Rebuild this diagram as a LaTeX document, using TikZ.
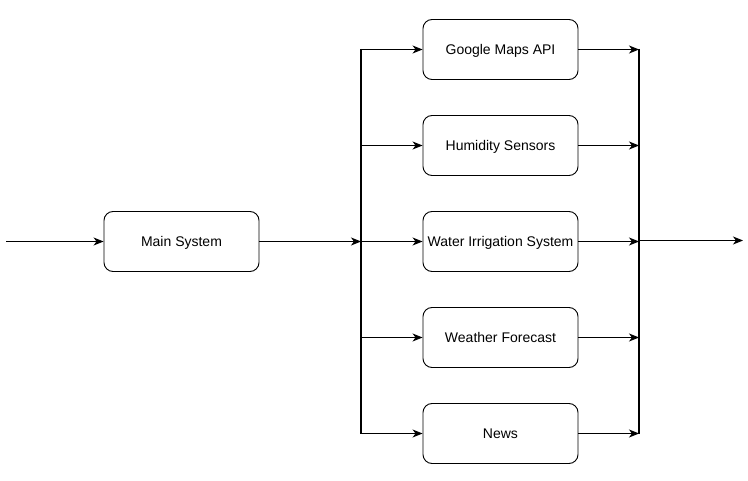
\documentclass[tikz,border=0pt]{standalone}
\usepackage{fontspec}
\setmainfont{Liberation Sans}
\usetikzlibrary{arrows.meta}
\begin{document}
\begin{tikzpicture}[x=1pt,y=-1pt,
  box/.style={draw,line width=0.9pt,rounded corners=9pt,minimum width=155pt,minimum height=60pt,inner sep=0pt,text depth=0pt,font=\fontsize{14}{16}\selectfont},
  conn/.style={line width=0.9pt,-{Stealth[length=10pt,width=8pt,inset=3pt]}},
  bar/.style={line width=1.8pt}]
\useasboundingbox (0,0) rectangle (748,481);
\node[box] (main) at (181.5,241.5) {Main System};
\node[box] (g) at (500.5,49.5) {Google Maps API};
\node[box] (h) at (500.5,145.5) {Humidity Sensors};
\node[box] (w) at (500.5,241.5) {Water Irrigation System};
\node[box] (f) at (500.5,337.5) {Weather Forecast};
\node[box] (n) at (500.5,433.5) {News};
\coordinate (in) at (6,241.5);
\coordinate (lt) at (361,49);
\coordinate (lb) at (361,434);
\coordinate (lm) at (361,241.5);
\coordinate (rt) at (639,49);
\coordinate (rb) at (639,434);
\coordinate (rm) at (639,240.5);
\coordinate (out) at (743,240.5);
\draw[bar] (lt) -- (lb);
\draw[bar] (rt) -- (rb);
\draw[conn] (in) -- (main);
\draw[conn] (main) -- (lm);
\foreach \b in {g,h,w,f,n} {
  \draw[conn] (lm |- \b.west) -- (\b.west);
  \draw[conn] (\b.east) -- (rm |- \b.east);
}
\draw[conn] (rm) -- (out);
\end{tikzpicture}
\end{document}
